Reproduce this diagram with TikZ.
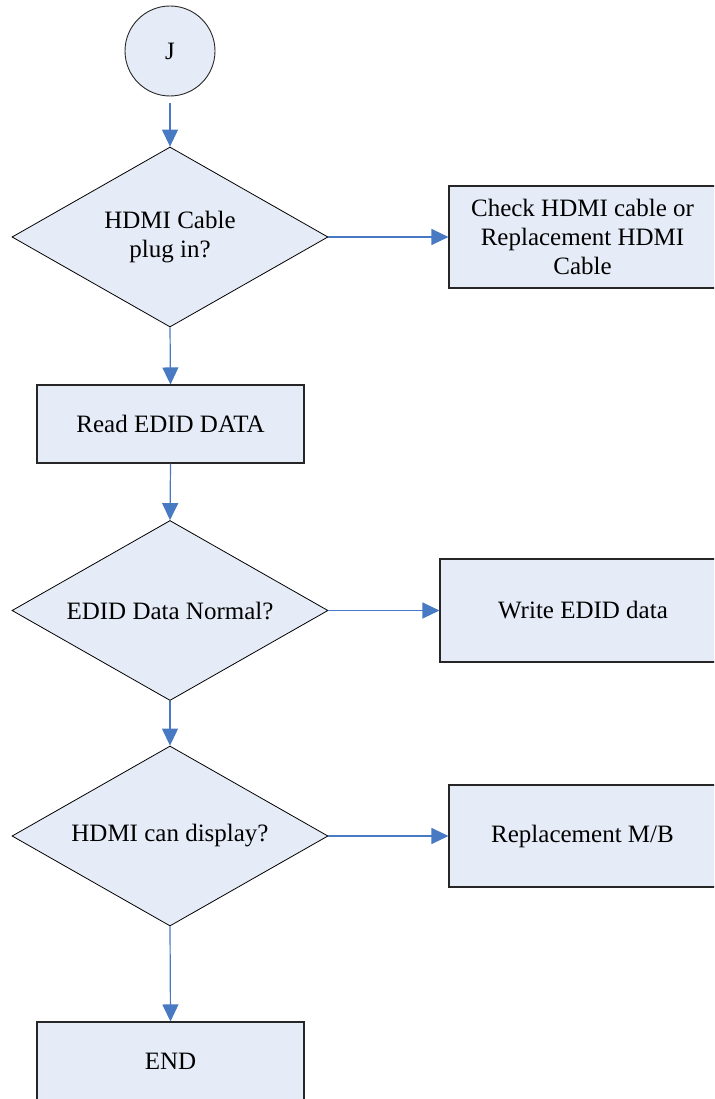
\documentclass[tikz,border=0pt]{standalone}
\usepackage{fontspec}
\setmainfont{Liberation Serif}
\usepackage{tikz}
\usetikzlibrary{positioning, arrows.meta, shapes.geometric}
\usepackage{xcolor}

\definecolor{boxfill}{RGB}{230,236,247}
\definecolor{flowblue}{RGB}{72,122,196}

\begin{document}
\begin{tikzpicture}[x=1pt, y=1pt,
    every node/.style={font=\fontsize{25}{29}\selectfont, align=center},
    procbox/.style={rectangle, draw=black!85, line width=1.1pt, fill=boxfill, inner sep=0pt},
    decision/.style={diamond, draw=black, line width=0.8pt, fill=boxfill, aspect=1.76,
        minimum width=316pt, minimum height=180pt, inner sep=3pt},
    flow/.style={-{Triangle[length=17pt, width=16pt]}, flowblue, line width=1.2pt}]
    \useasboundingbox (0,0) rectangle (714,-1099);
    \clip (0,0) rectangle (714,-1099);

    % Start connector
    \node[circle, draw=black!85, line width=0.9pt, fill=boxfill, minimum size=90pt, inner sep=0pt]
        (start) at (170,-51) {J};

    % Main column
    \node[decision] (cable) at (170,-237) {HDMI Cable\\plug in?};
    \node[procbox, minimum width=267pt, minimum height=78pt] (read) at (170.5,-424) {Read EDID DATA};
    \node[decision] (edid) at (170,-610.5) {EDID Data Normal?};
    \node[decision] (disp) at (170,-836) {HDMI can display?};
    \node[procbox, minimum width=267pt, minimum height=78pt] (fin) at (170.5,-1061) {END};

    % Right column: actions
    \node[procbox, minimum width=267pt, minimum height=102pt] (check) at (582.5,-237)
        {Check HDMI cable or\\Replacement HDMI\\Cable};
    \node[procbox, minimum width=286pt, minimum height=103pt] (write) at (583,-610.5) {Write EDID data};
    \node[procbox, minimum width=267pt, minimum height=102pt] (mb) at (582.5,-836) {Replacement M/B};

    % Connectors
    \draw[flow, shorten <=7pt] (start) -- (cable);
    \draw[flow] (cable.east) -- (check.west);
    \draw[flow] (cable.south) -- (read.north);
    \draw[flow] (read.south) -- (edid.north);
    \draw[flow] (edid.east) -- (write.west);
    \draw[flow] (edid.south) -- (disp.north);
    \draw[flow] (disp.east) -- (mb.west);
    \draw[flow] (disp.south) -- (fin.north);
\end{tikzpicture}
\end{document}
